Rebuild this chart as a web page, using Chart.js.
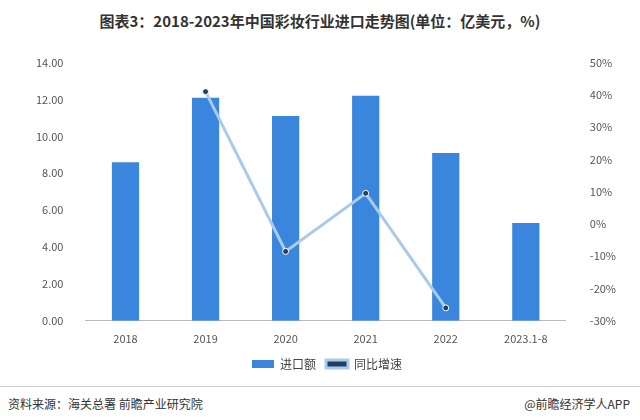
<!DOCTYPE html>
<html><head><meta charset="utf-8">
<script src="https://cdn.jsdelivr.net/npm/chart.js@4"></script>
<style>
body{margin:0;width:640px;height:420px;background:#fff;font-family:"Noto Sans CJK SC",sans-serif;position:relative;overflow:hidden}
#title{position:absolute;top:10px;left:0;width:640px;text-align:center;font-size:15px;font-weight:bold;color:#333}
#wrap{position:absolute;left:22px;top:40px;width:610px;height:340px}
#src{position:absolute;left:8px;bottom:8px;font-size:12px;color:#333}
#app{position:absolute;right:10px;bottom:8px;font-size:12px;color:#333}
#line{position:absolute;left:0;right:0;top:386px;border-top:1px solid #ccc}
</style></head><body>
<div id="title">图表3：2018-2023年中国彩妆行业进口走势图(单位：亿美元，%)</div>
<div id="wrap"><canvas id="c"></canvas></div>
<div id="line"></div>
<div id="src">资料来源：海关总署 前瞻产业研究院</div>
<div id="app">@前瞻经济学人APP</div>
<script>
// data
const categories = ['2018', '2019', '2020', '2021', '2022', '2023.1-8'];
const importValue = [8.6, 12.1, 11.1, 12.2, 9.1, 5.3];
const growthRate = [null, 41, -8.5, 9.5, -26, null];

const font = { family: '"Noto Sans CJK SC", sans-serif', size: 11 };

new Chart(document.getElementById('c'), {
	data: {
		labels: categories,
		datasets: [
			{
				type: 'line',
				label: '同比增速',
				data: growthRate,
				yAxisID: 'y1',
				borderColor: '#a9cbe9',
				backgroundColor: '#1f3f63',
				borderWidth: 3,
				pointRadius: 3,
				pointBorderColor: '#ffffff',
				pointBorderWidth: 1,
				spanGaps: true,
				order: 0
			},
			{
				type: 'bar',
				label: '进口额',
				data: importValue,
				yAxisID: 'y',
				backgroundColor: '#3a86dc',
				barPercentage: 0.34,
				categoryPercentage: 1,
				order: 1
			}
		]
	},
	options: {
		animation: false,
		responsive: true,
		maintainAspectRatio: false,
		layout: { padding: { top: 10, left: 0, right: 0 } },
		scales: {
			x: {
				grid: { display: false },
				border: { color: '#bbb' },
				ticks: { color: '#555', font }
			},
			y: {
				min: 0, max: 14,
				ticks: { stepSize: 2, color: '#555', font, callback: v => v.toFixed(2), padding: 14 },
				grid: { display: false },
				border: { display: false }
			},
			y1: {
				position: 'right',
				min: -30, max: 50,
				ticks: { stepSize: 10, color: '#555', font, callback: v => v + '%', padding: 16 },
				grid: { display: false },
				border: { display: false }
			}
		},
		plugins: {
			legend: {
				position: 'bottom',
				reverse: true,
				labels: { color: '#444', font: { ...font, size: 12 }, boxWidth: 22, boxHeight: 8 }
			}
		}
	}
});
</script>
</body></html>
